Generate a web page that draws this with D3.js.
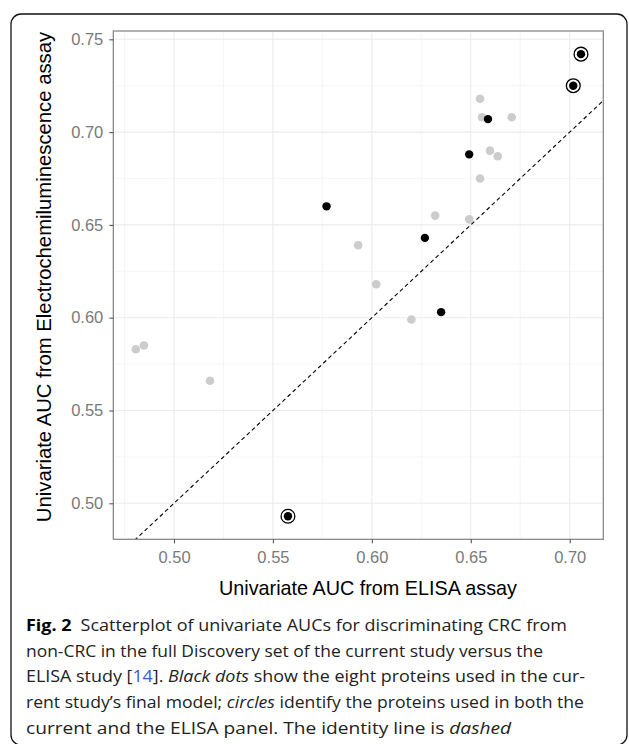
<!DOCTYPE html>
<html>
<head>
<meta charset="utf-8">
<script src="https://cdn.jsdelivr.net/npm/d3@7"></script>
<style>
  html, body { margin: 0; padding: 0; background: #fff; }
  svg { display: block; }
</style>
</head>
<body>
<svg id="chart" width="629" height="744"></svg>
<script>
// ---- data ----
const elisaAUC = [0.7057, 0.7018, 0.6547, 0.6557, 0.6587, 0.6707, 0.6492, 0.6597, 0.6636, 0.6547, 0.5771,
                  0.6320, 0.6492, 0.6268, 0.5931, 0.6022, 0.6350, 0.6200, 0.4807, 0.4848, 0.5182, 0.5576];
const eclAUC   = [0.742, 0.725, 0.718, 0.708, 0.707, 0.708, 0.688, 0.690, 0.687, 0.675, 0.660,
                  0.655, 0.653, 0.643, 0.639, 0.618, 0.603, 0.599, 0.583, 0.585, 0.566, 0.493];
const inFinalModel = [1,1,0,0,1,0,1,0,0,0,1, 0,0,1,0,0,1,0,0,0,0,1];
const inBothPanels = [1,1,0,0,0,0,0,0,0,0,0, 0,0,0,0,0,0,0,0,0,0,1];
const xTicks = [0.50, 0.55, 0.60, 0.65, 0.70];
const yTicks = [0.50, 0.55, 0.60, 0.65, 0.70, 0.75];
const xMinor = [0.475, 0.525, 0.575, 0.625, 0.675];
const yMinor = [0.525, 0.575, 0.625, 0.675, 0.725];
const xTitle = "Univariate AUC from ELISA assay";
const yTitle = "Univariate AUC from Electrochemiluminescence assay";

const points = elisaAUC.map((x, i) => ({x, y: eclAUC[i], black: inFinalModel[i] === 1, both: inBothPanels[i] === 1}));

const svg = d3.select("#chart");
const P = {left: 113.3, right: 603.3, top: 31, bottom: 539.3};

const x = d3.scaleLinear().domain([0.46932, 0.71698]).range([P.left, P.right]);
const y = d3.scaleLinear().domain([0.4806, 0.75447]).range([P.bottom, P.top]);

// outer frame
svg.append("rect").attr("x", 11).attr("y", 14).attr("width", 616).attr("height", 731)
  .attr("rx", 10).attr("fill", "none").attr("stroke", "#111").attr("stroke-width", 1.3);

// grid
const grid = svg.append("g");
grid.selectAll(".xmin").data(xMinor).join("line")
  .attr("x1", d => x(d)).attr("x2", d => x(d)).attr("y1", P.top).attr("y2", P.bottom)
  .attr("stroke", "#f0f0f0").attr("stroke-width", 0.7);
grid.selectAll(".ymin").data(yMinor).join("line")
  .attr("y1", d => y(d)).attr("y2", d => y(d)).attr("x1", P.left).attr("x2", P.right)
  .attr("stroke", "#f0f0f0").attr("stroke-width", 0.7);
grid.selectAll(".xmaj").data(xTicks).join("line")
  .attr("x1", d => x(d)).attr("x2", d => x(d)).attr("y1", P.top).attr("y2", P.bottom)
  .attr("stroke", "#ebebeb").attr("stroke-width", 1.1);
grid.selectAll(".ymaj").data(yTicks).join("line")
  .attr("y1", d => y(d)).attr("y2", d => y(d)).attr("x1", P.left).attr("x2", P.right)
  .attr("stroke", "#ebebeb").attr("stroke-width", 1.1);

// identity line (clipped to panel)
svg.append("clipPath").attr("id", "clip").append("rect")
  .attr("x", P.left).attr("y", P.top).attr("width", P.right - P.left).attr("height", P.bottom - P.top);
const idDom = [0.40, 0.80];
svg.append("line").attr("clip-path", "url(#clip)")
  .attr("x1", x(idDom[0])).attr("y1", y(idDom[0])).attr("x2", x(idDom[1])).attr("y2", y(idDom[1]))
  .attr("stroke", "#000").attr("stroke-width", 1.1).attr("stroke-dasharray", "4,3");

// points
const pts = svg.append("g");
pts.selectAll(".g").data(points.filter(d => !d.black)).join("circle")
  .attr("cx", d => x(d.x)).attr("cy", d => y(d.y)).attr("r", 4.3).attr("fill", "#cccccc");
pts.selectAll(".b").data(points.filter(d => d.black)).join("circle")
  .attr("cx", d => x(d.x)).attr("cy", d => y(d.y)).attr("r", 4.2).attr("fill", "#000");
pts.selectAll(".c").data(points.filter(d => d.both)).join("circle")
  .attr("cx", d => x(d.x)).attr("cy", d => y(d.y)).attr("r", 6.9)
  .attr("fill", "none").attr("stroke", "#000").attr("stroke-width", 1.3);

// panel border
svg.append("rect").attr("x", P.left).attr("y", P.top).attr("width", P.right - P.left).attr("height", P.bottom - P.top)
  .attr("fill", "none").attr("stroke", "#7f7f7f").attr("stroke-width", 1.2);

// axes
const axFont = "'Liberation Sans', Arial, sans-serif";
const xAxis = svg.append("g").attr("transform", `translate(0,${P.bottom})`)
  .call(d3.axisBottom(x).tickValues(xTicks).tickFormat(d3.format(".2f")).tickSize(4).tickPadding(8));
const yAxis = svg.append("g").attr("transform", `translate(${P.left},0)`)
  .call(d3.axisLeft(y).tickValues(yTicks).tickFormat(d3.format(".2f")).tickSize(4).tickPadding(6));
[xAxis, yAxis].forEach(a => {
  a.select(".domain").remove();
  a.selectAll(".tick line").attr("stroke", "#555").attr("stroke-width", 1.1);
  a.selectAll(".tick text").attr("fill", "#7a7a7a").style("font-family", axFont).style("font-size", "16.5px");
});

// axis titles
svg.append("text").attr("x", 368).attr("y", 595).attr("text-anchor", "middle")
  .style("font-family", axFont).style("font-size", "19.8px").attr("fill", "#000").text(xTitle);
svg.append("text").attr("transform", "translate(51,277) rotate(-90)").attr("text-anchor", "middle")
  .style("font-family", axFont).style("font-size", "20.3px").attr("fill", "#000").text(yTitle);

// caption
const capFont = "'Open Sans', 'Noto Sans', sans-serif";
const capLines = [
  {w: 541, parts: [{t: "Fig. 2", b: true}, {t: "\u2002Scatterplot of univariate AUCs for discriminating CRC from"}]},
  {w: 517, parts: [{t: "non-CRC in the full Discovery set of the current study versus the"}]},
  {w: 559, parts: [{t: "ELISA study ["}, {t: "14", c: "#3b5bdb"}, {t: "]. "}, {t: "Black dots", i: true}, {t: " show the eight proteins used in the cur-"}]},
  {w: 558, parts: [{t: "rent study\u2019s final model; "}, {t: "circles", i: true}, {t: " identify the proteins used in both the"}]},
  {w: 485, parts: [{t: "current and the ELISA panel. The identity line is "}, {t: "dashed", i: true}]}
];
const capTop = 631, capStep = 25.7;
capLines.forEach((ln, i) => {
  const t = svg.append("text").attr("x", 26).attr("y", capTop + i * capStep)
    .style("font-family", capFont).style("font-size", "16.5px").attr("fill", "#222")
    .attr("textLength", ln.w).attr("lengthAdjust", "spacingAndGlyphs");
  ln.parts.forEach(p => {
    t.append("tspan").text(p.t)
      .style("font-weight", p.b ? "700" : "400")
      .style("font-style", p.i ? "italic" : "normal")
      .attr("fill", p.c || (p.b ? "#000" : "#222"));
  });
});
</script>
</body>
</html>
